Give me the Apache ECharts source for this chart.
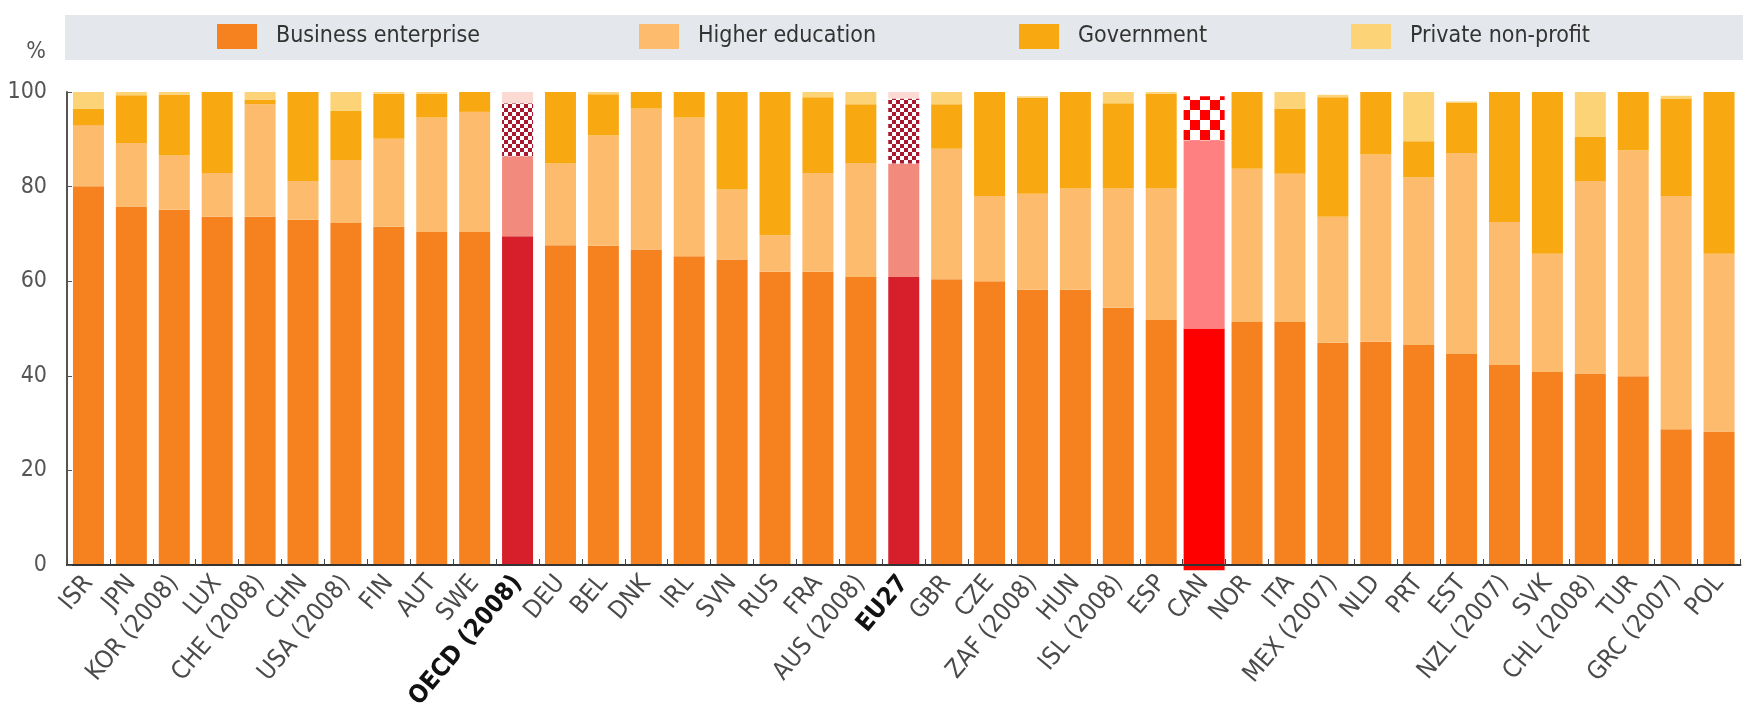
<!DOCTYPE html>
<html>
<head>
<meta charset="utf-8">
<script src="https://cdn.jsdelivr.net/npm/echarts@6/dist/echarts.min.js"></script>
<style>
html,body{margin:0;padding:0;background:#fff;}
#chart{width:1748px;height:721px;}
</style>
</head>
<body>
<div id="chart"></div>
<script>
// ---- data (percent of GERD by sector) ----
var categories = ['ISR','JPN','KOR (2008)','LUX','CHE (2008)','CHN','USA (2008)','FIN','AUT','SWE','OECD (2008)','DEU','BEL','DNK','IRL','SVN','RUS','FRA','AUS (2008)','EU27','GBR','CZE','ZAF (2008)','HUN','ISL (2008)','ESP','CAN','NOR','ITA','MEX (2007)','NLD','PRT','EST','NZL (2007)','SVK','CHL (2008)','TUR','GRC (2007)','POL'];
var businessEnterprise = [80.1,75.8,75.1,73.6,73.6,73.0,72.3,71.5,70.4,70.4,69.5,67.6,67.5,66.7,65.3,64.6,62.0,62.0,60.9,60.9,60.4,60.0,58.2,58.2,54.4,51.8,50.0,51.4,51.4,47.0,47.2,46.5,44.6,42.3,40.8,40.5,39.9,28.7,28.2];
var higherEducation = [12.9,13.4,11.5,9.3,23.8,8.2,13.3,18.6,24.2,25.4,16.9,17.3,23.3,29.8,29.3,14.8,7.7,20.9,24.1,24.0,27.6,18.0,20.3,21.4,25.2,27.8,39.8,32.4,31.3,26.6,39.6,35.5,42.5,30.2,25.0,40.7,47.8,49.3,37.6];
var government = [3.5,10.1,12.8,17.1,1.0,18.8,10.4,9.5,5.0,4.2,11.2,15.1,8.7,3.5,5.4,20.6,30.3,16.0,12.4,13.7,9.4,22.0,20.3,20.4,18.0,20.0,9.3,16.2,13.8,25.3,13.2,7.6,10.6,27.5,34.2,9.4,12.3,20.6,34.2];
var privateNonProfit = [3.5,0.7,0.6,0,1.6,0,4.0,0.4,0.4,0,2.4,0,0.5,0,0,0,0,1.1,2.6,1.4,2.6,0,0.3,0,2.4,0.4,0,0,3.5,0.5,0,10.4,0.3,0,0,9.4,0,0.6,0];
var canBelowZero = -1.1;          // CAN bar drawn slightly below the axis in the reference
var aggregates = ['OECD (2008)','EU27'];
var highlighted = 'CAN';
var seriesNames = ['Business enterprise','Higher education','Government','Private non-profit'];
var yTicks = [0,20,40,60,80,100];

// ---- styles ----
var FONT = "'DejaVu Sans Condensed','DejaVu Sans',sans-serif";
var baseColors = ['#F5821F','#FCBB6D','#F8A811','#FDD377'];
var aggColors = ['#D71F2B','#F28B7D','#FFFFFF','#FADAD3'];
var canColors = ['#FF0000','#FF8080','#FFFFFF'];
var aggDecal = {symbol:'rect',symbolSize:1,color:'#A8182E',dashArrayX:[[4,4],[0,4,4,0]],dashArrayY:[4,0],rotation:0};
var canDecal = {symbol:'rect',symbolSize:1,color:'#FF0000',dashArrayX:[[10,10],[0,10,10,0]],dashArrayY:[10,0],rotation:0};

var canIdx = categories.indexOf(highlighted);
var valueSets = [businessEnterprise, higherEducation, government, privateNonProfit];

function mainData(vals, s) {
  return vals.map(function (v, i) {
    if (i === canIdx) return '-';
    if (aggregates.indexOf(categories[i]) >= 0) {
      var st = {color: aggColors[s]};
      if (s === 2) st.decal = aggDecal;
      return {value: v, itemStyle: st};
    }
    return v;
  });
}
function canData(v) {
  return categories.map(function (c, i) { return i === canIdx ? v : '-'; });
}

var series = [];
valueSets.forEach(function (vals, s) {
  series.push({
    name: seriesNames[s], type: 'bar', stack: 'main', barWidth: 31,
    xAxisIndex: 0, itemStyle: {color: baseColors[s]},
    data: mainData(vals, s), silent: true
  });
});
// highlighted CAN bar on an overlaid (hidden) axis so it can be wider
[0,1,2].forEach(function (s) {
  var st = {color: canColors[s]};
  if (s === 2) st.decal = canDecal;
  series.push({
    name: 'CAN ' + seriesNames[s], type: 'bar', stack: 'can', barWidth: 41,
    xAxisIndex: 1, itemStyle: st, data: canData(valueSets[s][canIdx]), silent: true, z: 3
  });
});
series.push({
  name: 'CAN below', type: 'bar', stack: 'can', barWidth: 41, xAxisIndex: 1, clip: false,
  itemStyle: {color: canColors[0]}, data: canData(canBelowZero), silent: true, z: 3
});

var legendLefts = [217, 639, 1019, 1351];
var legends = seriesNames.map(function (n, i) {
  return {
    data: [n], left: legendLefts[i], top: 24, padding: 0, z: 10,
    itemWidth: 40, itemHeight: 25, icon: 'rect', selectedMode: false,
    textStyle: {fontFamily: FONT, fontSize: 23, color: '#333', padding: [0, 0, 0, 14]}
  };
});

var chart = echarts.init(document.getElementById('chart'), null, {renderer: 'canvas'});
chart.setOption({
  animation: false,
  backgroundColor: '#fff',
  grid: {left: 67, right: 7.5, top: 92, bottom: 156, containLabel: false},
  legend: legends,
  graphic: [
    {type: 'rect', z: 0, shape: {x: 65, y: 15, width: 1678, height: 45}, style: {fill: '#E4E7EB'}},
    {type: 'text', z: 5, x: 36, y: 52, style: {text: '%', font: '23px ' + FONT, fill: '#555', textAlign: 'center', textVerticalAlign: 'middle'}}
  ],
  xAxis: [{
    type: 'category', data: categories,
    axisLine: {show: true, lineStyle: {color: '#333', width: 2}},
    axisTick: {show: true, inside: true, length: 6, lineStyle: {color: '#444', width: 1}},
    axisLabel: {
      interval: 0, rotate: 50, margin: 14, fontFamily: FONT, fontSize: 25, color: '#4a4a4a',
      formatter: function (v) { return aggregates.indexOf(v) >= 0 ? '{b|' + v + '}' : v; },
      rich: {b: {fontFamily: FONT, fontSize: 25, fontWeight: 'bold', color: '#111'}}
    },
    z: 5
  }, {
    type: 'category', data: categories, show: false, position: 'bottom'
  }],
  yAxis: {
    type: 'value', min: yTicks[0], max: yTicks[yTicks.length - 1], interval: 20,
    axisLine: {show: true, lineStyle: {color: '#555', width: 2}},
    axisTick: {show: true, inside: true, length: 5, lineStyle: {color: '#555'}},
    splitLine: {show: false},
    axisLabel: {fontFamily: FONT, fontSize: 23, color: '#555', margin: 20},
    z: 5
  },
  series: series
});
</script>
</body>
</html>
